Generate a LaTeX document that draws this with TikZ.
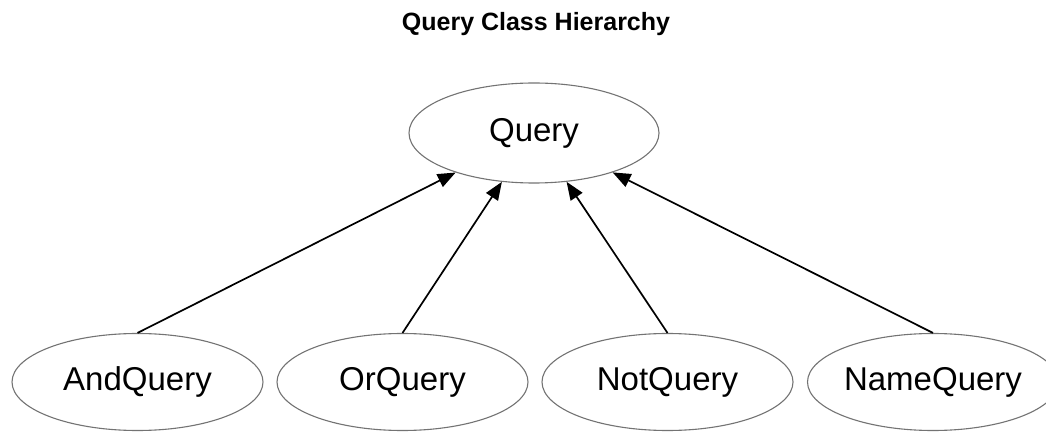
\documentclass[tikz,border=0pt]{standalone}
\usepackage{fontspec}
\setmainfont{Liberation Sans}
\usetikzlibrary{shapes.geometric,arrows.meta}
\begin{document}
\begin{tikzpicture}[x=1pt,y=1pt,
  cls/.style={draw=black!55,line width=1.1pt,ellipse,inner sep=0pt,
    minimum width=251pt,minimum height=97pt,font=\fontsize{33}{38}\selectfont},
  inh/.style={line width=1.7pt,-{Triangle[length=18pt,width=14pt]}}]
\useasboundingbox (0,0) rectangle (1046,431);
\node[anchor=base,font=\bfseries\fontsize{25}{30}\selectfont] (title) at (536,400) {Query Class Hierarchy};
\node[cls,minimum width=250pt,minimum height=100pt] (q) at (534,298) {\makebox[0pt]{Query}};
\node[cls] (and) at (137.5,49) {\makebox[0pt]{AndQuery}};
\node[cls] (or) at (402.5,49) {\makebox[0pt]{OrQuery}};
\node[cls] (not) at (667.5,49) {\makebox[0pt]{NotQuery}};
\node[cls] (name) at (933,49) {\makebox[0pt]{NameQuery}};
\draw[inh] (and.north) -- (q);
\draw[inh] (or.north) -- (q);
\draw[inh] (not.north) -- (q);
\draw[inh] (name.north) -- (q);
\end{tikzpicture}
\end{document}
